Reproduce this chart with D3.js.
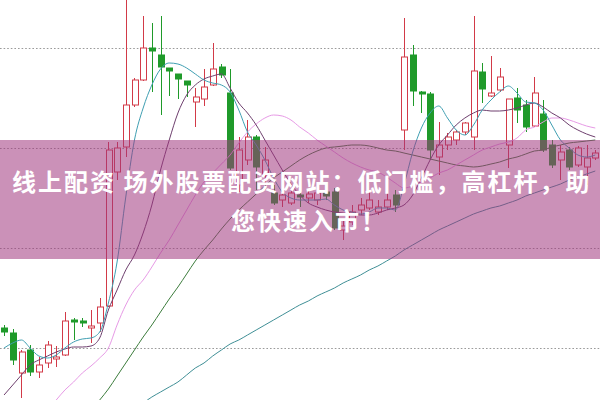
<!DOCTYPE html>
<html><head><meta charset="utf-8">
<script src="https://cdn.jsdelivr.net/npm/d3@7/dist/d3.min.js"></script>
<style>html,body{margin:0;padding:0;background:#fff;}svg{display:block;}</style>
</head><body>
<svg id="c" width="600" height="400"></svg>
<script>
const openV  = [10.20,10.15,9.75,9.98,9.76,9.85,9.89,9.93,10.28,10.27,10.20,10.25,10.42,11.76,12.01,12.43,12.68,13.00,12.93,12.80,12.74,12.67,12.46,12.49,12.63,12.81,12.55,11.63,11.88,12.11,11.73,11.55,11.48,11.45,11.53,11.50,11.48,11.56,11.56,11.18,11.26,11.38,11.40,11.36,11.41,11.53,12.18,12.93,12.56,12.54,11.91,12.03,12.08,12.16,12.11,12.76,12.52,12.58,12.03,12.50,12.43,12.22,12.34,12.03,11.88,11.98,11.83,11.81,11.90];
const closeV = [10.16,9.88,9.96,9.76,9.83,10.03,9.91,10.27,10.26,10.25,10.22,10.41,11.98,12.00,12.43,12.68,13.00,12.97,12.81,12.77,12.69,12.63,12.51,12.61,12.79,12.73,11.80,11.98,12.11,11.81,11.88,11.45,11.53,11.55,11.51,11.54,11.55,11.52,11.20,11.22,11.36,11.43,11.48,11.41,11.48,11.43,12.91,12.57,12.54,11.98,12.03,12.11,12.16,12.25,12.77,12.59,12.55,12.71,12.49,12.38,12.21,12.55,11.98,11.83,11.96,11.81,12.00,11.90,11.95];
const highV  = [10.23,10.19,9.98,10.03,9.91,10.07,10.02,10.36,10.30,10.30,10.38,10.50,12.06,12.06,13.53,12.70,13.32,13.25,13.32,12.80,12.74,12.67,12.60,12.79,13.05,12.84,12.79,12.11,12.28,12.13,12.01,11.63,11.61,11.58,11.56,11.58,11.61,11.60,11.60,11.28,11.43,11.50,11.58,11.48,11.55,11.58,13.30,13.03,12.57,12.56,12.26,12.15,12.18,12.26,13.32,12.85,12.92,12.80,12.49,12.60,12.48,12.71,12.48,12.08,12.03,12.01,12.02,12.03,11.98];
const lowV   = [10.12,9.83,9.50,9.72,9.70,9.80,9.81,9.92,10.08,10.21,10.05,10.16,10.41,11.68,11.91,12.41,12.67,12.56,12.33,12.52,12.49,12.51,12.21,12.42,12.62,12.70,11.78,11.56,11.83,11.58,11.58,11.43,11.41,11.43,11.41,11.45,11.43,11.48,11.18,11.08,11.23,11.33,11.38,11.33,11.38,11.36,11.98,12.42,12.35,11.88,11.73,11.98,12.03,12.13,11.98,12.45,12.51,12.56,11.80,12.25,12.16,12.21,11.96,11.80,11.68,11.78,11.81,11.63,11.88];

const ma5 = [10.00,10.05,10.08,10.00,9.92,9.90,9.93,10.00,10.06,10.09,10.10,10.16,10.45,10.86,11.51,12.08,12.40,12.63,12.79,12.85,12.84,12.80,12.74,12.68,12.65,12.63,12.56,12.38,12.16,12.03,11.88,11.70,11.56,11.50,11.48,11.48,11.48,11.49,11.43,11.38,11.36,11.34,11.36,11.40,11.40,11.38,11.63,11.96,12.20,12.35,12.42,12.30,12.18,12.13,12.23,12.38,12.48,12.56,12.62,12.55,12.46,12.45,12.38,12.23,12.08,12.00,11.93,11.91,11.93];
const ma10 = [9.53,9.63,9.73,9.83,9.88,9.92,9.96,9.99,10.01,10.01,10.02,10.10,10.38,10.58,10.78,10.93,11.15,11.43,11.78,12.08,12.35,12.53,12.63,12.69,12.72,12.74,12.60,12.45,12.35,12.23,12.08,11.93,11.78,11.64,11.53,11.45,11.41,11.38,11.36,11.35,11.34,11.33,11.33,11.35,11.38,11.40,11.43,11.53,11.70,11.88,12.03,12.13,12.23,12.30,12.35,12.38,12.37,12.37,12.38,12.40,12.43,12.45,12.41,12.35,12.30,12.23,12.18,12.14,12.11];
const ma20 = [null,null,null,null,null,9.38,9.48,9.58,9.66,9.75,9.82,9.90,10.00,10.23,10.43,10.58,10.68,10.81,10.95,11.08,11.23,11.38,11.53,11.66,11.75,11.84,11.93,12.05,12.16,12.24,12.30,12.33,12.32,12.28,12.21,12.15,12.08,12.02,11.96,11.90,11.85,11.81,11.78,11.76,11.71,11.65,11.60,11.62,11.66,11.70,11.75,11.78,11.83,11.88,11.93,11.98,12.01,12.04,12.06,12.10,12.18,12.21,12.26,12.30,12.30,12.28,12.25,12.22,12.20];
const ma30 = [null,null,null,null,null,null,null,null,null,null,null,9.48,9.59,9.72,9.85,9.98,10.11,10.23,10.36,10.49,10.61,10.74,10.87,10.98,11.08,11.19,11.29,11.38,11.46,11.54,11.62,11.70,11.76,11.82,11.88,11.93,11.97,12.00,12.01,12.02,12.03,12.03,12.02,12.00,11.98,11.97,11.95,11.93,11.91,11.89,11.87,11.85,11.83,11.82,11.81,11.82,11.84,11.86,11.89,11.91,11.94,11.97,11.98,12.01,12.03,12.05,12.06,12.07,12.08];
const ma60 = [null,null,null,null,null,null,null,null,null,null,null,null,null,null,null,null,9.45,9.51,9.56,9.61,9.66,9.73,9.80,9.85,9.92,9.98,10.04,10.08,10.13,10.18,10.23,10.28,10.33,10.38,10.43,10.47,10.52,10.56,10.60,10.65,10.69,10.73,10.78,10.82,10.87,10.92,10.98,11.03,11.08,11.13,11.18,11.22,11.26,11.30,11.34,11.37,11.40,11.42,11.45,11.48,11.52,11.55,11.58,11.61,11.64,11.68,11.71,11.74,11.77];

const gridLevels = [10, 11, 12, 13];
const titleLines = ["线上配资 场外股票配资网站：低门槛，高杠杆，助", "您快速入市！"];

const W = 600, H = 400;
const svg = d3.select("#c");
const idx = d3.range(openV.length);
const step = 8.74;
const x = d3.scaleBand().domain(idx).range([2.5 - step/2, 2.5 - step/2 + step*idx.length]).padding(0.36);
const y = d3.scaleLinear().domain([9.48, 13.48]).range([H, 0]);
const cx = i => x(i) + x.bandwidth()/2;

// grid
svg.append("g").selectAll("line").data(gridLevels).join("line")
  .attr("x1", 0).attr("x2", W)
  .attr("y1", d => Math.round(y(d)) + 0.5).attr("y2", d => Math.round(y(d)) + 0.5)
  .attr("stroke", "#9a9a9a").attr("stroke-width", 1.2).attr("stroke-dasharray", "1.6,2");

const RED = "#d23a48", GREEN = "#1f9a2a";
const candles = idx.map(i => ({i, o: openV[i], c: closeV[i], h: highV[i], l: lowV[i]}));
const g = svg.append("g");
g.selectAll("line.w").data(candles).join("line").attr("class","w")
  .attr("x1", d => Math.round(cx(d.i)) + 0.5).attr("x2", d => Math.round(cx(d.i)) + 0.5)
  .attr("y1", d => y(d.h)).attr("y2", d => y(d.l))
  .attr("stroke", d => d.c >= d.o ? RED : GREEN).attr("stroke-width", 1);
g.selectAll("rect").data(candles).join("rect")
  .attr("x", d => Math.round(x(d.i)) + 0.5)
  .attr("width", Math.round(x.bandwidth()))
  .attr("y", d => y(Math.max(d.o, d.c)))
  .attr("height", d => Math.max(1, Math.abs(y(d.o) - y(d.c))))
  .attr("fill", d => d.c >= d.o ? "#fff" : GREEN)
  .attr("stroke", d => d.c >= d.o ? RED : GREEN).attr("stroke-width", 1);

const line = d3.line().defined(d => d.v != null).x(d => cx(d.i)).y(d => y(d.v)).curve(d3.curveMonotoneX);
const series = [
  {v: ma60, color: "#3f8f96"},
  {v: ma30, color: "#3d7d3d"},
  {v: ma20, color: "#e79ae6"},
  {v: ma10, color: "#6e3f6e"},
  {v: ma5,  color: "#3f9fb2"}
];
series.forEach(s => {
  svg.append("path").datum(s.v.map((v, i) => ({i, v})))
    .attr("d", line).attr("fill", "none").attr("stroke", s.color).attr("stroke-width", 1);
});

// banner
svg.append("rect").attr("x", 0).attr("y", 140).attr("width", W).attr("height", 119)
  .attr("fill", "rgb(160,55,125)").attr("fill-opacity", 0.55);
const tx = [12, 231], ty = [191, 230];
svg.selectAll("text.t").data(titleLines).join("text").attr("class", "t")
  .attr("x", (d, i) => tx[i]).attr("y", (d, i) => ty[i])
  .attr("font-family", "'Noto Sans CJK SC', 'Noto Sans', sans-serif")
  .attr("font-weight", 700).attr("font-size", 24).attr("letter-spacing", 2)
  .attr("fill", "#fff").text(d => d);
</script>
</body></html>
